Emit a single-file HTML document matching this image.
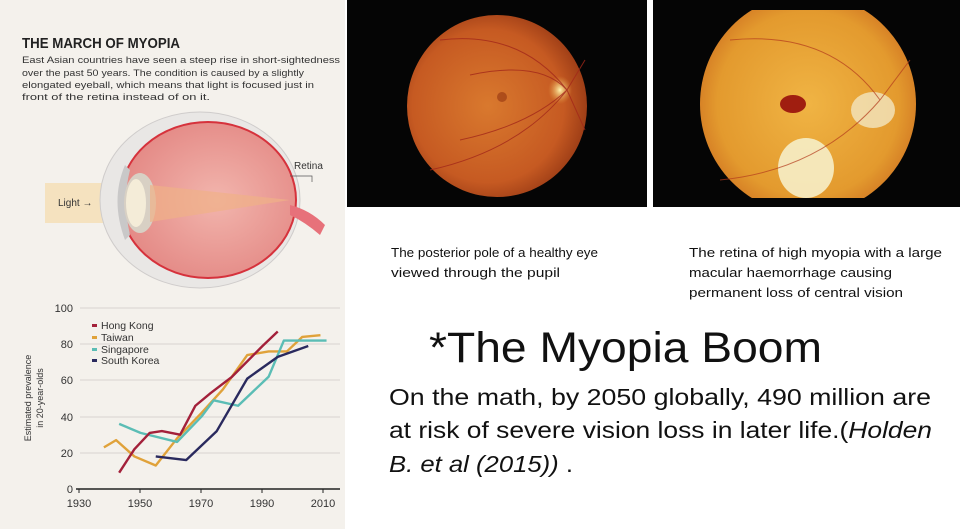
<!DOCTYPE html>
<html><head><meta charset="utf-8"><style>
html,body{margin:0;padding:0;background:#fff;}
svg{display:block;font-family:"Liberation Sans",sans-serif;}
</style></head><body>
<svg width="960" height="529" viewBox="0 0 960 529" xmlns="http://www.w3.org/2000/svg">
<defs>
<radialGradient id="f1" cx="0.45" cy="0.5" r="0.6">
<stop offset="0" stop-color="#d9792e"/><stop offset="0.7" stop-color="#c65a22"/><stop offset="1" stop-color="#8f3312"/>
</radialGradient>
<radialGradient id="f2" cx="0.5" cy="0.5" r="0.6">
<stop offset="0" stop-color="#f0b444"/><stop offset="0.7" stop-color="#e39a2e"/><stop offset="1" stop-color="#c9661d"/>
</radialGradient>
<radialGradient id="disc" cx="0.5" cy="0.5" r="0.5">
<stop offset="0" stop-color="#fff6b0"/><stop offset="1" stop-color="#e6a040" stop-opacity="0"/>
</radialGradient>
<radialGradient id="eyeg" cx="0.55" cy="0.5" r="0.55">
<stop offset="0" stop-color="#f2b5ad"/><stop offset="1" stop-color="#e48a86"/>
</radialGradient>
<clipPath id="c2"><rect x="653" y="10" width="307" height="188"/></clipPath>
</defs>
<!-- left panel -->
<rect x="0" y="0" width="345" height="529" fill="#f4f1ec"/>
<text x="22" y="48" font-size="15" font-weight="bold" fill="#222" textLength="158" lengthAdjust="spacingAndGlyphs">THE MARCH OF MYOPIA</text>
<g font-size="9.5" fill="#333">
<text x="22" y="63" textLength="318" lengthAdjust="spacingAndGlyphs">East Asian countries have seen a steep rise in short-sightedness</text>
<text x="22" y="76" textLength="282" lengthAdjust="spacingAndGlyphs">over the past 50 years. The condition is caused by a slightly</text>
<text x="22" y="88" textLength="292" lengthAdjust="spacingAndGlyphs">elongated eyeball, which means that light is focused just in</text>
<text x="22" y="100" textLength="188" lengthAdjust="spacingAndGlyphs">front of the retina instead of on it.</text>
</g>
<!-- eye -->
<rect x="45" y="183" width="90" height="40" fill="#f5e2bf"/>
<ellipse cx="200" cy="200" rx="100" ry="88" fill="#e9e7e5" stroke="#cfcccb"/>
<ellipse cx="208" cy="200" rx="88" ry="78" fill="url(#eyeg)" stroke="#d6323c" stroke-width="2"/>
<path d="M125,165 Q110,200 125,240 L130,235 Q122,200 130,170Z" fill="#c9c8c8"/>
<ellipse cx="140" cy="203" rx="16" ry="30" fill="#d8d0c4"/>
<ellipse cx="136" cy="203" rx="10" ry="24" fill="#f4ecd8"/>
<path d="M150,185 L290,200 L150,222Z" fill="#f0b088" opacity="0.7"/>
<path d="M290,205 Q310,210 325,225 L320,235 Q305,222 290,215Z" fill="#e7717a"/>
<text x="58" y="206" font-size="10" fill="#333">Light →</text>
<text x="294" y="169" font-size="10" fill="#333">Retina</text>
<path d="M290,176 L312,176 L312,182" fill="none" stroke="#555" stroke-width="0.7"/>
<!-- chart -->
<g stroke="#d8d4cf" stroke-width="1">
<line x1="80" y1="308" x2="340" y2="308"/><line x1="80" y1="344" x2="340" y2="344"/>
<line x1="80" y1="380" x2="340" y2="380"/><line x1="80" y1="417" x2="340" y2="417"/>
<line x1="80" y1="453" x2="340" y2="453"/>
</g>
<line x1="76" y1="489" x2="340" y2="489" stroke="#222" stroke-width="1.5"/>
<g stroke="#222" stroke-width="1"><line x1="79" y1="489" x2="79" y2="493"/><line x1="140" y1="489" x2="140" y2="493"/><line x1="201" y1="489" x2="201" y2="493"/><line x1="262" y1="489" x2="262" y2="493"/><line x1="323" y1="489" x2="323" y2="493"/></g>
<g font-size="11" fill="#333" text-anchor="end">
<text x="73" y="312">100</text><text x="73" y="348">80</text><text x="73" y="384">60</text><text x="73" y="421">40</text><text x="73" y="457">20</text><text x="73" y="493">0</text>
</g>
<g font-size="11" fill="#333" text-anchor="middle">
<text x="79" y="507">1930</text><text x="140" y="507">1950</text><text x="201" y="507">1970</text><text x="262" y="507">1990</text><text x="323" y="507">2010</text>
</g>
<g font-size="9" fill="#333" text-anchor="middle">
<text transform="translate(31,398) rotate(-90)">Estimated prevalence</text>
<text transform="translate(43,398) rotate(-90)">in 20-year-olds</text>
</g>
<g transform="translate(-5807,489) scale(3.05,-1.81)" fill="none" stroke-width="2.4" stroke-linejoin="round">
<polyline vector-effect="non-scaling-stroke" stroke="#e0a23a" points="1938,23 1942,27 1948,18 1955,13 1962,28 1970,42 1977,55 1985,74 1992,76 1998,76 2003,84 2009,85"/>
<polyline vector-effect="non-scaling-stroke" stroke="#5bbdb5" points="1943,36 1950,31 1962,26 1970,40 1974,49 1982,46 1992,62 1997,82 2011,82"/>
<polyline vector-effect="non-scaling-stroke" stroke="#2a2a5e" points="1955,18 1965,16 1975,32 1985,61 1995,73 2005,79"/>
<polyline vector-effect="non-scaling-stroke" stroke="#a3203a" points="1943,9 1948,22 1953,31 1957,32 1963,30 1968,46 1973,53 1980,62 1990,79 1995,87"/>
</g>
<g font-size="10.5" fill="#333">
<rect x="92" y="324" width="5" height="3" fill="#a3203a"/><text x="101" y="329">Hong Kong</text>
<rect x="92" y="336" width="5" height="3" fill="#e0a23a"/><text x="101" y="341">Taiwan</text>
<rect x="92" y="348" width="5" height="3" fill="#5bbdb5"/><text x="101" y="353">Singapore</text>
<rect x="92" y="359" width="5" height="3" fill="#2a2a5e"/><text x="101" y="364">South Korea</text>
</g>
<!-- fundus images -->
<rect x="347" y="0" width="300" height="207" fill="#050505"/>
<ellipse cx="497" cy="106" rx="90" ry="91" fill="url(#f1)"/>
<ellipse cx="560" cy="90" rx="12" ry="14" fill="url(#disc)"/>
<circle cx="502" cy="97" r="5" fill="#9c3d14" opacity="0.7"/>
<g stroke="#a3281a" stroke-width="1" fill="none" opacity="0.8">
<path d="M567,90 Q520,30 440,40"/><path d="M567,90 Q520,150 430,170"/><path d="M567,90 Q540,60 470,75"/><path d="M567,90 Q530,125 460,140"/><path d="M567,90 L585,60"/><path d="M567,90 L585,130"/>
</g>
<rect x="653" y="0" width="307" height="207" fill="#050505"/>
<ellipse cx="808" cy="104" rx="108" ry="110" fill="url(#f2)" clip-path="url(#c2)"/>
<ellipse cx="806" cy="168" rx="28" ry="30" fill="#f6eec8" opacity="0.9"/>
<ellipse cx="873" cy="110" rx="22" ry="18" fill="#f3e6c0" opacity="0.8"/>
<ellipse cx="793" cy="104" rx="13" ry="9" fill="#a01e10"/>
<g stroke="#b33a1c" stroke-width="1" fill="none" opacity="0.7">
<path d="M880,100 Q830,30 730,40"/><path d="M880,100 Q820,170 720,180"/><path d="M880,100 L910,60"/>
</g>
<!-- captions -->
<g font-size="12.5" fill="#111">
<text x="391" y="257" textLength="207" lengthAdjust="spacingAndGlyphs">The posterior pole of a healthy eye</text>
<text x="391" y="277" textLength="169" lengthAdjust="spacingAndGlyphs">viewed through the pupil</text>
<text x="689" y="257" textLength="253" lengthAdjust="spacingAndGlyphs">The retina of high myopia with a large</text>
<text x="689" y="277" textLength="203" lengthAdjust="spacingAndGlyphs">macular haemorrhage causing</text>
<text x="689" y="297" textLength="214" lengthAdjust="spacingAndGlyphs">permanent loss of central vision</text>
</g>
<text x="429" y="362" font-size="43" fill="#111" textLength="393" lengthAdjust="spacingAndGlyphs">*The Myopia Boom</text>
<g font-size="23" fill="#111">
<text x="389" y="405" textLength="542" lengthAdjust="spacingAndGlyphs">On the math, by 2050 globally, 490 million are</text>
<text x="389" y="438" textLength="543" lengthAdjust="spacingAndGlyphs">at risk of severe vision loss in later life.(<tspan font-style="italic">Holden</tspan></text>
<text x="389" y="472" textLength="184" lengthAdjust="spacingAndGlyphs" font-style="italic">B. et al (2015)) <tspan font-style="normal">.</tspan></text>
</g>
</svg>
</body></html>
